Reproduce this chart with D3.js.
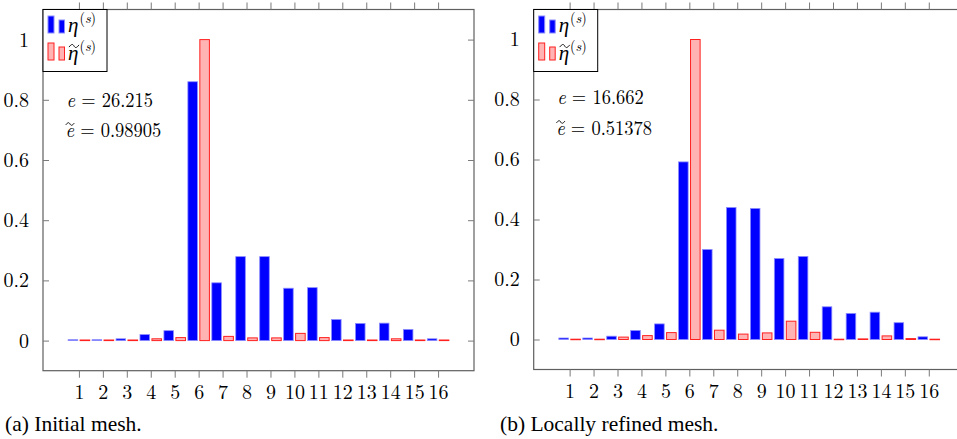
<!DOCTYPE html>
<html><head><meta charset="utf-8">
<script src="https://cdn.jsdelivr.net/npm/d3@7"></script>
<style>body{margin:0;background:#fff}svg{display:block}</style>
</head><body>
<svg id="c" width="957" height="439"></svg>
<script>
// ---- data ----
const categories = [1,2,3,4,5,6,7,8,9,10,11,12,13,14,15,16];
const yTicks = [0, 0.2, 0.4, 0.6, 0.8, 1];
const yTickLabels = ["0", "0.2", "0.4", "0.6", "0.8", "1"];
const etaA      = [0.003,0.003,0.006,0.02,0.033,0.86,0.192,0.279,0.279,0.174,0.176,0.07,0.057,0.058,0.037,0.006];
const etaTildeA = [0.002,0.002,0.002,0.006,0.01,1.0,0.014,0.009,0.009,0.024,0.01,0.002,0.002,0.006,0.002,0.002];
const etaB      = [0.005,0.005,0.011,0.03,0.052,0.592,0.30,0.44,0.437,0.27,0.277,0.109,0.087,0.091,0.056,0.009];
const etaTildeB = [0.001,0.001,0.008,0.013,0.023,1.0,0.031,0.018,0.022,0.061,0.024,0.001,0.002,0.012,0.003,0.001];
const errA = ["26.215", "0.98905"];
const errB = ["16.662", "0.51378"];
const captions = ["(a) Initial mesh.", "(b) Locally refined mesh."];

const svg = d3.select("#c");
const LM = "Latin Modern Roman";
const TIMES = "Liberation Serif";

function setFont(sel, fam, size) {
  sel.attr("font-family", fam).style("font-family", `"${fam}"`);
  if (size) sel.attr("font-size", size).style("font-size", size + "px");
  return sel;
}
function wrap(sel) {
  sel.each(function () {
    const s = this.textContent;
    const e = d3.select(this);
    e.text(null);
    e.append("tspan").text(s);
  });
}

const panels = [
  {left:43, right:474, top:9.5, bottom:370.7, eta:etaA, etaT:etaTildeA, err:errA, cap:captions[0], capX:5, a1:107, a2:137},
  {left:533.7, right:964.7, top:9.5, bottom:369.5, eta:etaB, etaT:etaTildeB, err:errB, cap:captions[1], capX:500, a1:104, a2:135}
];

// widetilde path centred at (cx, cy), width w
function tilde(sel, cx, cy, w) {
  const h = w * 0.22;
  sel.append("path")
    .attr("d", `M${cx - w/2},${cy + h/2} C${cx - w/4},${cy - h} ${cx - w/8},${cy - h} ${cx},${cy} S${cx + w/4},${cy + h} ${cx + w/2},${cy - h/2}`)
    .attr("fill", "none").attr("stroke", "#000").attr("stroke-width", 0.9);
}

panels.forEach(p => {
  const g = svg.append("g");
  const x = d3.scaleLinear().domain([-0.5, 17.5]).range([p.left, p.right]);
  const y = d3.scaleLinear().domain([-0.1, 1.1]).range([p.bottom, p.top]);
  const bw = x(0.4) - x(0);

  // bars
  g.selectAll(".b").data(categories).enter().append("rect")
    .attr("x", (c) => x(c - 0.25) - bw/2)
    .attr("width", bw)
    .attr("y", (c,i) => y(p.eta[i]))
    .attr("height", (c,i) => Math.max(0.5, y(0) - y(p.eta[i])))
    .attr("fill", "#0000ff").attr("stroke", "#8c8cff").attr("stroke-width", 0.8);
  g.selectAll(".r").data(categories).enter().append("rect")
    .attr("x", (c) => x(c + 0.25) - bw/2)
    .attr("width", bw)
    .attr("y", (c,i) => y(p.etaT[i]))
    .attr("height", (c,i) => Math.max(0.5, y(0) - y(p.etaT[i])))
    .attr("fill", "#ffb3b3").attr("stroke", "#ff2020").attr("stroke-width", 1);

  // frame
  g.append("rect").attr("x", p.left).attr("y", p.top)
    .attr("width", p.right - p.left).attr("height", p.bottom - p.top)
    .attr("fill", "none").attr("stroke", "#5f5f5f").attr("stroke-width", 1.2);

  // axes
  const ax = g.append("g").attr("transform", `translate(0,${p.bottom})`)
    .call(d3.axisBottom(x).tickValues(categories).tickSize(7).tickPadding(7).tickFormat(d3.format("d")));
  const axT = g.append("g").attr("transform", `translate(0,${p.top})`)
    .call(d3.axisTop(x).tickValues(categories).tickSize(7).tickFormat(""));
  const ayL = g.append("g").attr("transform", `translate(${p.left},0)`)
    .call(d3.axisLeft(y).tickValues(yTicks).tickSize(-6).tickPadding(14)
      .tickFormat((d,i) => yTickLabels[i]));
  const ayR = g.append("g").attr("transform", `translate(${p.right},0)`)
    .call(d3.axisRight(y).tickValues(yTicks).tickSize(-6).tickFormat(""));
  [ax, axT, ayL, ayR].forEach(a => {
    a.select(".domain").remove();
    setFont(a, LM, 20);
    a.selectAll(".tick line").attr("stroke", "#7a7a7a").attr("stroke-width", 1);
    const tx = a.selectAll(".tick text").attr("fill", "#000");
    setFont(tx, LM, 20);
    wrap(tx);
  });

  // legend
  const lg = g.append("g");
  const lx = p.left;
  lg.append("rect").attr("x", lx).attr("y", p.top).attr("width", 64).attr("height", 62)
    .attr("fill", "#fff").attr("stroke", "#000").attr("stroke-width", 1);
  const legRows = [
    {fill:"#0000ff", stroke:"#8c8cff", y0:33, h1:17, h2:13, base:32, tilde:false},
    {fill:"#ffb3b3", stroke:"#ff2020", y0:60, h1:17, h2:13, base:60, tilde:true}
  ];
  legRows.forEach(r => {
    lg.append("rect").attr("x", lx+5).attr("y", r.y0 - r.h1).attr("width", 6).attr("height", r.h1)
      .attr("fill", r.fill).attr("stroke", r.stroke).attr("stroke-width", 1);
    lg.append("rect").attr("x", lx+16).attr("y", r.y0 - r.h2).attr("width", 5.5).attr("height", r.h2)
      .attr("fill", r.fill).attr("stroke", r.stroke).attr("stroke-width", 1);
    const t = setFont(lg.append("text").attr("x", lx+25).attr("y", r.base), LM, 21);
    setFont(t.append("tspan"), TIMES, 21).style("font-style", "italic").text("η");
    setFont(t.append("tspan"), LM, 14).attr("dy", -9).attr("dx", 1).text("(");
    setFont(t.append("tspan"), LM, 14).style("font-style", "italic").text("s");
    setFont(t.append("tspan"), LM, 14).text(")");
    if (r.tilde) tilde(lg, lx + 31, r.base - 14, 10);
  });

  // annotation (slightly taller than wide, as in the reference)
  [[p.a1, p.err[0], 23.5], [p.a2, p.err[1], 22.5]].forEach(([yy, val, dx]) => {
    const t = setFont(g.append("text")
      .attr("transform", `translate(${p.left + dx},${yy}) scale(1,1.1)`), LM, 18.5);
    t.append("tspan").style("font-style", "italic").text("e");
    t.append("tspan").text(" = " + val);
  });
  tilde(g, p.left + 27, p.a2 - 13, 8.5);

  // caption
  const cp = setFont(svg.append("text").attr("x", p.capX).attr("y", 431), TIMES, 21.5);
  cp.append("tspan").text(p.cap);
});
</script>
</body></html>
